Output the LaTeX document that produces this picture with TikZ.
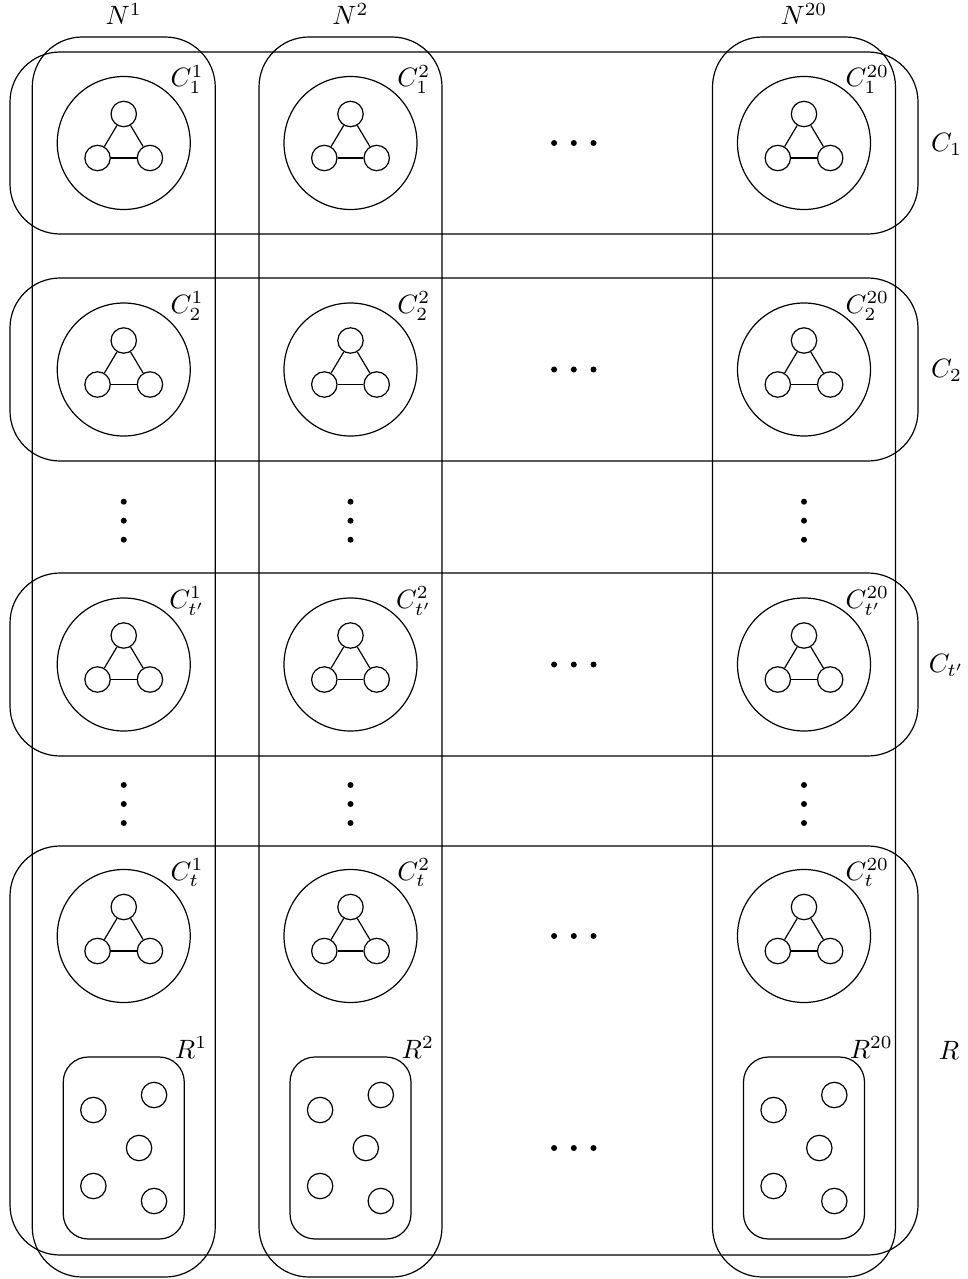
\documentclass[tikz,border=0pt]{standalone}
\begin{document}
\begin{tikzpicture}[x=1pt,y=-1pt,line width=1.2pt,
  colbox/.style={draw,rectangle,rounded corners=50pt,minimum width=183pt,minimum height=1240pt,inner sep=0pt},
  rowbox/.style={draw,rectangle,rounded corners=50pt,minimum width=908pt,inner sep=0pt},
  comp/.style={draw,circle,minimum size=133pt,inner sep=0pt},
  vert/.style={draw,circle,minimum size=25.4pt,inner sep=0pt},
  rbox/.style={draw,rectangle,rounded corners=25pt,minimum width=121pt,minimum height=182pt,inner sep=0pt},
  lab/.style={inner sep=0pt,scale=2.65},
  dotn/.style={fill,circle,inner sep=0pt,minimum size=6pt}]
\useasboundingbox (0,0) rectangle (967,1279);

% row boxes
\node[rowbox,minimum height=182pt] (RowC1) at (464,143) {};
\node[rowbox,minimum height=183pt] (RowC2) at (464,369.5) {};
\node[rowbox,minimum height=183pt] (RowCt) at (464,664.5) {};
\node[rowbox,minimum height=409pt] (RowR) at (464,1050.5) {};
\node[lab] (RowC1lab) at (946.5,144) {$C_1$};
\node[lab] (RowC2lab) at (946.5,370.5) {$C_2$};
\node[lab] (RowCtlab) at (946.5,665.5) {$C_{t'}$};
\node[lab] (RowRlab) at (949,1050.5) {$R$};

\foreach \c/\x/\s in {1/123.75/1, 2/350.5/2, 3/804/20} {
  \node[colbox] (N\c) at (\x,657) {};
  \node[lab,anchor=base] (Nlab\c) at (\x,25) {$N^{\s}$};
  \foreach \r/\y/\sub in {1/143/1, 2/369.5/2, 3/664.5/{t'}, 4/936/t} {
    \node[comp] (C\r-\c) at (\x,\y) {};
    \node[lab,anchor=base] (Clab\r-\c) at ([xshift=63.3pt,yshift=56pt]\x,\y) {$C^{\s}_{\sub}$};
    \node[vert] (Ta\r-\c) at ([yshift=29pt]\x,\y) {};
    \node[vert] (Tb\r-\c) at ([xshift=-26.2pt,yshift=-15pt]\x,\y) {};
    \node[vert] (Tc\r-\c) at ([xshift=26.2pt,yshift=-15pt]\x,\y) {};
    \draw (Ta\r-\c) -- (Tb\r-\c);
    \draw (Tb\r-\c) -- (Tc\r-\c);
    \draw (Tc\r-\c) -- (Ta\r-\c);
  }
  % R boxes
  \node[rbox] (Rb\c) at (\x,1148) {};
  \node[lab,anchor=base] (Rlab\c) at ([xshift=67.3pt,yshift=90pt]\x,1148) {$R^{\s}$};
  \node[vert] (Ra\c) at ([xshift=-30.4pt,yshift=38pt]\x,1148) {};
  \node[vert] (Rbb\c) at ([xshift=30.3pt,yshift=53pt]\x,1148) {};
  \node[vert] (Rc\c) at ([xshift=15.3pt]\x,1148) {};
  \node[vert] (Rd\c) at ([xshift=-30.4pt,yshift=-38pt]\x,1148) {};
  \node[vert] (Re\c) at ([xshift=30.3pt,yshift=-53pt]\x,1148) {};
  % vertical dots
  \foreach \yy in {520.7,804} {
    \node[dotn] (vd1-\c-\yy) at ([yshift=19pt]\x,\yy) {};
    \node[dotn] (vd2-\c-\yy) at (\x,\yy) {};
    \node[dotn] (vd3-\c-\yy) at ([yshift=-19pt]\x,\yy) {};
  }
}
% horizontal dots
\foreach \y in {143,369.5,664.5,936,1148} {
  \node[dotn] (hd1-\y) at (554.1,\y) {};
  \node[dotn] (hd2-\y) at (573.8,\y) {};
  \node[dotn] (hd3-\y) at (593.5,\y) {};
}
\end{tikzpicture}
\end{document}
